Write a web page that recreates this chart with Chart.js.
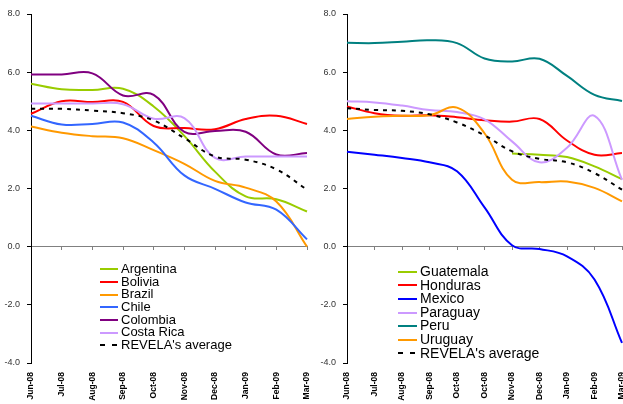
<!DOCTYPE html>
<html>
<head>
<meta charset="utf-8">
<script src="https://cdn.jsdelivr.net/npm/chart.js@4.4.1/dist/chart.umd.min.js"></script>
<style>
html, body { margin: 0; padding: 0; background: #fff; overflow: hidden; width: 623px; height: 404px; }
.panel { position: absolute; top: 0; height: 404px; }
.legend { position: absolute; font-family: "Liberation Sans", Arial, sans-serif; color: #000; }
.legend div { display: flex; align-items: center; white-space: nowrap; }
.legend svg { margin-right: 3px; }
</style>
</head>
<body>
<div class="panel" style="left:0;width:315px"><canvas id="left" width="315" height="404"></canvas></div>
<div class="panel" style="left:315px;width:316px"><canvas id="right" width="316" height="404"></canvas></div>
<div id="legendLeft" class="legend" style="left:100px;top:263px;font-size:13px;line-height:12.7px"></div>
<div id="legendRight" class="legend" style="left:398px;top:265px;font-size:14px;line-height:13.6px"></div>
<script>
// tick labels
const monthsLeft = ['Jun-08', 'Jul-08', 'Aug-08', 'Sep-08', 'Oct-08', 'Nov-08', 'Dec-08', 'Jan-09', 'Feb-09', 'Mar-09'];
const monthsRight = ['Jun-08', 'Jul-08', 'Aug-08', 'Sep-08', 'Oct-08', 'Oct-08', 'Nov-08', 'Dec-08', 'Jan-09', 'Feb-09', 'Mar-09'];

// left panel series
const namesLeft = ['Argentina', 'Bolivia', 'Brazil', 'Chile', 'Colombia', 'Costa Rica', "REVELA's average"];
const argentina = [5.6, 5.41, 5.39, 5.43, 4.82, 3.81, 2.58, 1.73, 1.63, 1.21];
const bolivia = [4.57, 5.0, 4.97, 4.98, 4.15, 4.08, 4.04, 4.39, 4.5, 4.22];
const brazil = [4.13, 3.92, 3.8, 3.73, 3.32, 2.85, 2.26, 2.03, 1.55, 0.0];
const chile = [4.5, 4.2, 4.22, 4.27, 3.58, 2.45, 1.99, 1.52, 1.27, 0.25];
const colombia = [5.92, 5.92, 5.96, 5.2, 5.22, 3.95, 3.98, 3.95, 3.17, 3.22];
const costaRica = [4.92, 4.92, 4.92, 4.9, 4.4, 4.42, 3.05, 3.1, 3.1, 3.1];
const averageLeft = [4.74, 4.74, 4.68, 4.59, 4.34, 3.73, 3.1, 2.99, 2.66, 1.96];

// right panel series
const namesRight = ['Guatemala', 'Honduras', 'Mexico', 'Paraguay', 'Peru', 'Uruguay', "REVELA's average"];
const guatemala = [null, null, null, null, null, null, 3.2, 3.16, 3.08, 2.76, 2.32];
const honduras = [4.82, 4.59, 4.5, 4.52, 4.45, 4.35, 4.3, 4.39, 3.65, 3.16, 3.22];
const mexico = [3.26, 3.16, 3.05, 2.9, 2.59, 1.35, 0.05, -0.08, -0.33, -1.13, -3.31];
const paraguay = [5.0, 4.96, 4.85, 4.7, 4.63, 4.38, 3.62, 2.9, 3.4, 4.5, 2.3];
const peru = [7.01, 7.0, 7.05, 7.1, 7.0, 6.47, 6.37, 6.46, 5.87, 5.22, 5.01];
const uruguay = [4.39, 4.47, 4.5, 4.52, 4.78, 3.9, 2.3, 2.22, 2.24, 2.02, 1.56];
const averageRight = [4.76, 4.7, 4.67, 4.55, 4.27, 3.83, 3.28, 3.02, 2.9, 2.53, 1.96];

const colorsLeft = ['#99CC00', '#FF0000', '#FF9900', '#3366FF', '#800080', '#CC99FF', '#000000'];
const colorsRight = ['#99CC00', '#FF0000', '#0000FF', '#CC99FF', '#008080', '#FF9900', '#000000'];

const fontFamily = '"Liberation Sans", Arial, sans-serif';
Chart.defaults.font.family = fontFamily;

function makeChart(canvasId, labels, names, values, colors, yWidth, padRight) {
    const datasets = values.map((v, i) => {
        const isAvg = i === values.length - 1;
        return {
            label: names[i],
            data: v,
            borderColor: colors[i],
            borderWidth: 2,
            borderDash: isAvg ? [4, 5] : [],
            pointRadius: 0,
            tension: 0.4,
            fill: false,
            xAxisID: 'x',
            order: values.length - i // later series drawn on top, like Excel
        };
    });

    return new Chart(document.getElementById(canvasId), {
        type: 'line',
        data: { labels: labels, datasets: datasets },
        options: {
            responsive: false,
            animation: false,
            devicePixelRatio: 1,
            layout: { padding: { top: 14, right: padRight, left: 0, bottom: 0 } },
            plugins: { legend: { display: false }, tooltip: { enabled: false } },
            scales: {
                x: {
                    type: 'category',
                    position: 'bottom',
                    ticks: {
                        minRotation: 90, maxRotation: 90, autoSkip: false, padding: 9,
                        color: '#000', font: { size: 8.5, weight: 'bold' }
                    },
                    grid: { display: false, drawTicks: false },
                    border: { display: false },
                    afterFit: s => { s.height = 41; s.paddingLeft = 0; s.paddingRight = 0; }
                },
                // the zero line with its tick marks
                x0: {
                    axis: 'x',
                    type: 'category',
                    position: { y: 0 },
                    ticks: { display: false },
                    grid: { drawOnChartArea: false, drawTicks: true, tickLength: 3, color: '#808080' },
                    border: { display: true, color: '#808080', width: 1 }
                },
                y: {
                    min: -4,
                    max: 8,
                    ticks: {
                        stepSize: 2, padding: 7, color: '#333', font: { size: 9 },
                        callback: v => v.toFixed(1)
                    },
                    grid: { drawOnChartArea: false, drawTicks: true, tickLength: 4, color: '#000' },
                    border: { display: true, color: '#000', width: 1 },
                    afterFit: s => { s.width = yWidth; s.paddingTop = 0; s.paddingBottom = 0; }
                }
            }
        }
    });
}

function buildLegend(chart, boxId, swatchW, rowH) {
    const box = document.getElementById(boxId);
    chart.data.datasets.forEach(ds => {
        const row = document.createElement('div');
        row.style.height = rowH + 'px';
        const dash = ds.borderDash.length ? 'stroke-dasharray="5,7"' : '';
        row.innerHTML = '<svg width="' + swatchW + '" height="2"><line x1="0" y1="1" x2="' + swatchW +
            '" y2="1" stroke="' + ds.borderColor + '" stroke-width="2" ' + dash + '/></svg><span>' + ds.label + '</span>';
        box.appendChild(row);
    });
}

const leftChart = makeChart('left', monthsLeft, namesLeft,
    [argentina, bolivia, brazil, chile, colombia, costaRica, averageLeft], colorsLeft, 31, 8);
const rightChart = makeChart('right', monthsRight, namesRight,
    [guatemala, honduras, mexico, paraguay, peru, uruguay, averageRight], colorsRight, 32, 9);

buildLegend(leftChart, 'legendLeft', 18, 12.7);
buildLegend(rightChart, 'legendRight', 19, 13.6);
</script>
</body>
</html>
